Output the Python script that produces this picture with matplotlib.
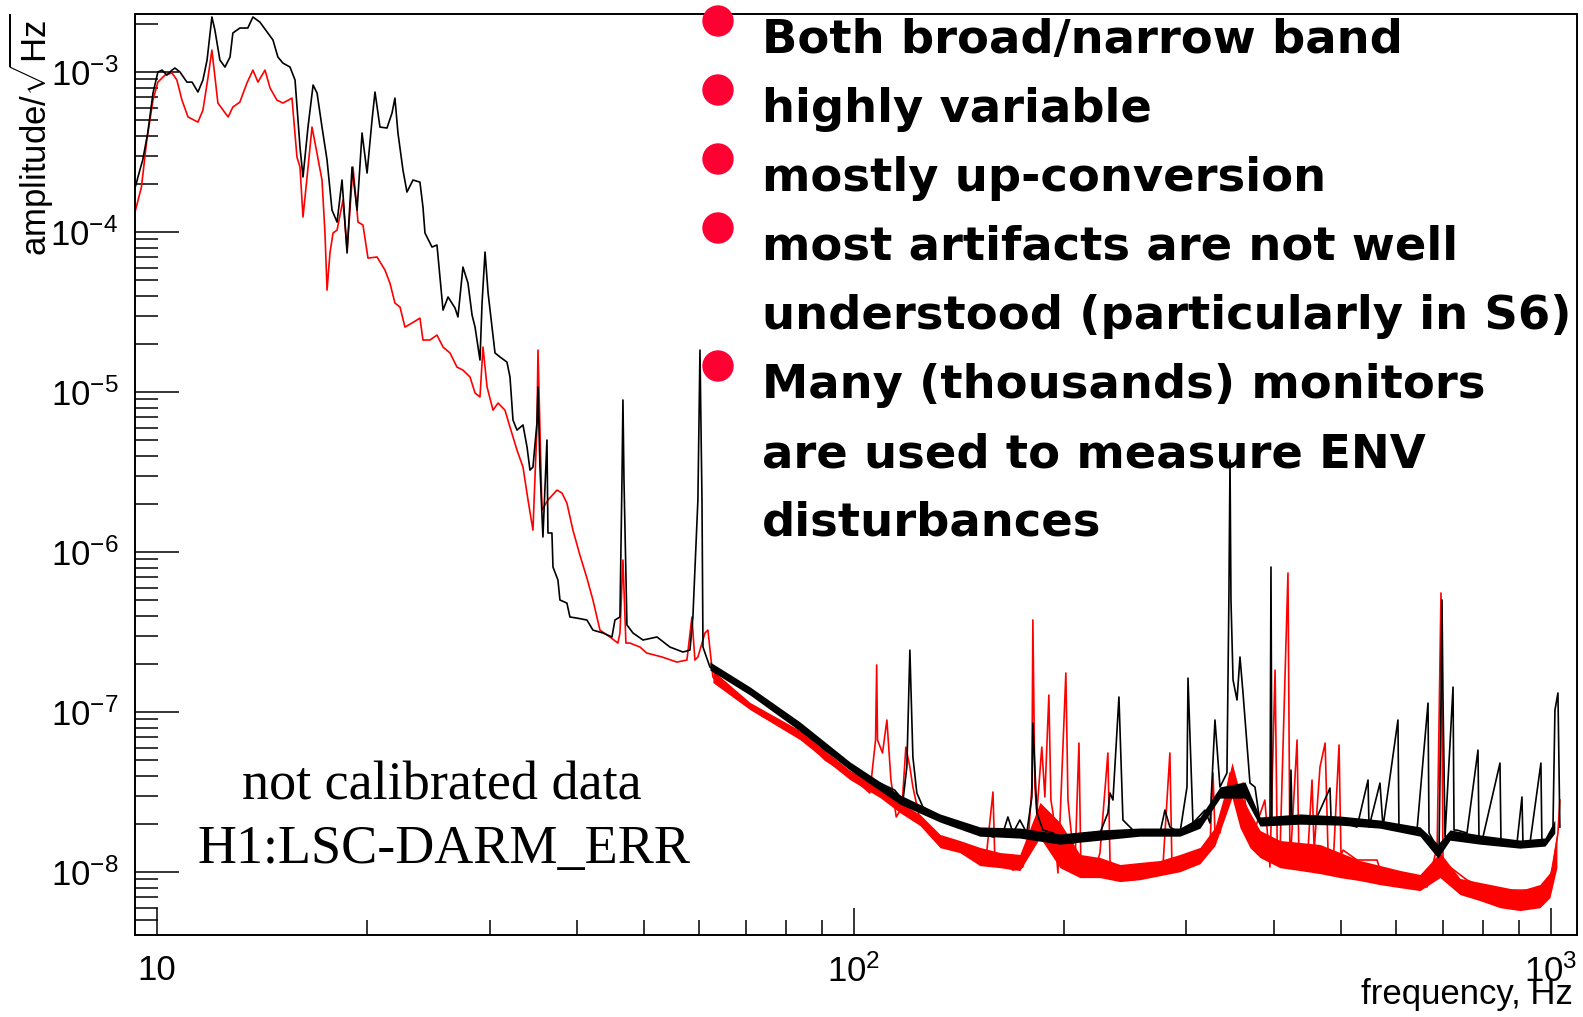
import numpy as np
import matplotlib.pyplot as plt
from matplotlib.patches import Ellipse
from matplotlib.ticker import FixedLocator, FixedFormatter, LogLocator, NullFormatter

plt.rcParams['font.family'] = 'Liberation Sans'
plt.rcParams['mathtext.fontset'] = 'custom'
plt.rcParams['mathtext.rm'] = 'Liberation Sans'
plt.rcParams['mathtext.default'] = 'regular'

# ---- spectrum: frequency in Hz, amplitude as log10 ----
black_freq = [9.30, 9.45, 9.54, 9.70, 9.87, 10.03, 10.17, 10.33, 10.51, 10.61, 10.79, 11.04, 11.23,
              11.45, 11.64, 11.80, 11.99, 12.11, 12.31, 12.52, 12.73, 12.85, 13.15, 13.50, 13.73,
              14.05, 14.39, 14.67, 14.91, 15.16, 15.52, 15.78, 16.04, 16.20, 16.47, 16.75, 16.97,
              17.25, 17.54, 17.83, 18.13, 18.43, 18.74, 19.05, 19.37, 19.69, 20.02, 20.35, 20.55,
              20.89, 21.38, 21.74, 21.95, 22.17, 22.54, 22.84, 23.30, 23.84, 24.08, 24.24, 24.81,
              25.22, 25.47, 25.73, 26.16, 26.77, 27.03, 27.48, 27.94, 28.32, 28.60, 29.07, 29.27,
              29.56, 29.86, 30.25, 30.55, 31.06, 31.78, 32.10, 32.42, 32.85, 33.51, 33.96, 34.29,
              34.63, 35.09, 35.21, 35.44, 35.79, 36.27, 36.39, 36.87, 37.00, 37.61, 37.86, 38.74,
              39.13, 40.04, 41.39, 42.22, 43.64, 44.96, 45.40, 46.16, 46.47, 46.62, 46.78, 47.24,
              48.19, 49.81, 52.17, 54.45, 56.84, 58.17, 58.74, 59.72, 60.13, 60.53, 60.73, 62.14,
              64.22, 67.06, 69.35, 71.72, 74.19, 76.77, 80.42, 83.67, 87.08, 90.91, 95.81, 100.4,
              103.7, 109.0, 114.4, 117.6, 119.1, 120.3, 121.5, 123.1, 125.6, 129.8, 136.0, 143.3,
              151.6, 158.3, 163.6, 166.3, 169.1, 173.0, 177.0, 180.0, 180.6, 183.0, 186.7, 193.0,
              199.5, 206.1, 215.9, 225.4, 231.4, 233.0, 235.3, 240.0, 243.2, 251.4, 263.2, 274.8,
              279.4, 284.0, 293.6, 300.5, 301.5, 306.5, 318.9, 324.2, 329.6, 335.1, 342.9, 345.1,
              346.4, 347.5, 349.9, 354.5, 358.0, 361.6, 370.0, 376.2, 382.5, 395.3, 396.6, 397.9,
              401.9, 422.3, 423.7, 425.1, 440.9, 461.8, 482.0, 483.6, 503.2, 527.0, 546.5, 548.3,
              568.5, 574.2, 603.3, 605.3, 613.5, 642.5, 666.3, 668.5, 677.4, 690.9, 695.5, 697.8,
              700.1, 704.8, 723.7, 726.1, 733.3, 757.9, 785.9, 788.5, 799.0, 845.1, 847.9, 853.6,
              893.9, 908.8, 911.8, 933.2, 967.5, 970.7, 986.9, 1006.8, 1013.4, 1023.5, 1030.0]
black_log = [-3.725, -3.613, -3.55, -3.381, -3.131, -3.0, -2.988, -3.019, -2.988, -2.975, -3.0, -3.063, -3.063,
             -3.125, -3.05, -2.925, -2.656, -2.738, -2.925, -2.969, -2.906, -2.756, -2.725, -2.725, -2.656,
             -2.688, -2.75, -2.8, -2.906, -2.944, -2.969, -3.05, -3.469, -3.656, -3.344, -3.081, -3.131,
             -3.344, -3.55, -3.863, -3.938, -3.675, -4.131, -3.594, -3.863, -3.381, -3.631, -3.3, -3.125,
             -3.344, -3.35, -3.256, -3.163, -3.381, -3.613, -3.75, -3.675, -3.688, -3.844, -4.006, -4.094,
             -4.081, -4.281, -4.488, -4.406, -4.475, -4.531, -4.219, -4.319, -4.519, -4.594, -4.8, -4.444,
             -4.125, -4.381, -4.594, -4.756, -4.781, -4.813, -4.906, -5.175, -5.238, -5.206, -5.344, -5.488,
             -5.469, -5.194, -4.969, -5.469, -5.906, -5.3, -5.881, -5.881, -6.094, -6.175, -6.3, -6.319,
             -6.406, -6.413, -6.425, -6.488, -6.506, -6.531, -6.425, -6.406, -5.55, -5.05, -5.55, -6.456,
             -6.506, -6.55, -6.531, -6.594, -6.625, -6.613, -6.406, -5.675, -4.738, -5.675, -6.594, -6.719,
             -6.756, -6.8, -6.844, -6.881, -6.925, -6.988, -7.031, -7.094, -7.156, -7.238, -7.3, -7.344,
             -7.406, -7.444, -7.488, -7.55, -7.344, -6.613, -7.281, -7.506, -7.594, -7.631, -7.675, -7.719,
             -7.75, -7.781, -7.756, -7.656, -7.756, -7.675, -7.756, -7.531, -7.069, -7.631, -7.738, -7.756,
             -7.8, -7.819, -7.781, -7.756, -7.631, -7.506, -7.55, -6.906, -7.675, -7.738, -7.756, -7.756,
             -7.613, -7.719, -7.756, -7.469, -6.788, -7.694, -7.613, -7.694, -7.05, -7.469, -7.381, -6.3,
             -5.425, -6.3, -6.8, -6.925, -6.656, -6.881, -7.444, -7.469, -7.694, -7.694, -6.094, -7.694,
             -7.675, -7.656, -7.363, -7.656, -7.675, -7.656, -7.475, -7.656, -7.694, -7.719, -7.425, -7.719,
             -7.444, -7.719, -7.05, -7.719, -7.719, -7.738, -6.944, -7.756, -7.8, -7.881, -6.925, -6.3,
             -6.925, -7.781, -6.844, -7.738, -7.738, -7.756, -7.238, -7.781, -7.781, -7.319, -7.8, -7.8,
             -7.819, -7.531, -7.819, -7.819, -7.319, -7.819, -7.819, -7.719, -6.988, -6.881, -7.719]

red_freq = [9.30, 9.50, 9.67, 9.87, 10.03, 10.27, 10.51, 10.68, 10.86, 11.08, 11.45, 11.64, 11.84,
            11.99, 12.11, 12.23, 12.65, 12.85, 13.15, 13.46, 13.73, 13.96, 14.29, 14.53, 14.86,
            15.16, 15.62, 15.88, 16.04, 16.20, 16.42, 16.69, 16.86, 17.25, 17.42, 17.54, 17.71,
            17.89, 18.13, 18.49, 18.74, 19.11, 19.43, 19.75, 20.08, 20.69, 21.24, 21.59, 21.95,
            22.32, 22.69, 23.22, 23.84, 24.08, 24.64, 25.22, 25.73, 26.33, 26.94, 27.48, 28.13,
            28.60, 29.07, 29.36, 29.76, 30.35, 30.86, 31.57, 32.10, 32.85, 33.51, 34.07, 34.63,
            35.09, 35.21, 35.44, 35.68, 36.39, 37.49, 38.11, 38.74, 39.52, 40.44, 41.39, 42.22,
            43.21, 44.66, 45.85, 46.16, 46.62, 47.08, 47.71, 49.32, 50.41, 53.04, 55.72, 57.59,
            58.55, 59.13, 59.72, 61.13, 61.73, 62.75, 64.86, 67.96, 70.93, 74.19, 77.55, 80.42,
            83.67, 87.08, 90.91, 95.81, 100.4, 105.4, 107.4, 107.8, 108.1, 109.9, 111.5, 113.0,
            115.0, 117.2, 118.7, 120.3, 121.5, 124.4, 128.5, 132.9, 137.3, 141.9, 146.7, 151.6,
            155.0, 158.3, 159.3, 163.6, 169.1, 174.7, 177.6, 180.0, 180.6, 181.8, 183.0, 186.0,
            187.9, 190.4, 191.7, 193.0, 196.2, 199.5, 201.4, 202.8, 204.1, 207.5, 210.3, 211.7,
            213.1, 220.3, 225.4, 231.4, 233.0, 235.3, 246.3, 257.2, 268.5, 277.5, 284.0, 285.9,
            290.7, 300.5, 313.7, 324.2, 327.5, 329.6, 335.1, 340.7, 346.4, 349.9, 354.5, 361.6,
            370.0, 388.7, 395.3, 402.0, 405.0, 408.6, 419.5, 422.3, 432.3, 435.2, 446.8, 454.2,
            457.4, 466.3, 474.3, 478.8, 486.8, 496.6, 499.8, 503.2, 527.0, 563.1, 574.2, 601.4,
            627.8, 664.1, 686.7, 695.5, 700.1, 716.5, 757.9, 799.0, 845.1, 893.9, 942.5, 986.9,
            1006.8, 1023.5, 1030.0]
red_log = [-3.875, -3.719, -3.425, -3.175, -3.063, -3.019, -3.006, -3.05, -3.175, -3.281, -3.313, -3.238, -3.031,
           -2.863, -3.031, -3.194, -3.281, -3.219, -3.188, -3.069, -2.988, -3.063, -2.988, -3.1, -3.175,
           -3.194, -3.163, -3.531, -3.594, -3.906, -3.656, -3.344, -3.444, -3.675, -4.006, -4.363, -4.131,
           -4.006, -3.988, -3.8, -4.113, -3.594, -3.938, -3.956, -4.163, -4.156, -4.238, -4.319, -4.444,
           -4.469, -4.594, -4.569, -4.538, -4.675, -4.675, -4.644, -4.719, -4.756, -4.844, -4.863, -4.906,
           -5.006, -5.031, -4.719, -4.969, -5.113, -5.069, -5.113, -5.219, -5.363, -5.469, -5.675, -5.863,
           -5.219, -4.738, -5.219, -5.738, -5.675, -5.613, -5.631, -5.694, -5.863, -6.019, -6.163, -6.3,
           -6.488, -6.531, -6.569, -6.506, -6.05, -6.569, -6.569, -6.594, -6.631, -6.656, -6.688, -6.675,
           -6.406, -6.675, -6.656, -6.506, -6.488, -6.781, -6.844, -6.906, -6.969, -7.031, -7.05, -7.113,
           -7.156, -7.219, -7.3, -7.363, -7.425, -7.506, -7.175, -6.706, -7.175, -7.256, -7.05, -7.425,
           -7.656, -7.594, -7.219, -7.344, -7.469, -7.675, -7.756, -7.819, -7.844, -7.844, -7.881, -7.925,
           -7.881, -7.5, -7.925, -7.944, -7.988, -7.969, -7.844, -7.469, -6.425, -7.469, -7.631, -7.219,
           -7.531, -6.894, -7.55, -7.631, -8.006, -7.219, -6.756, -7.55, -7.675, -7.969, -7.194, -7.988,
           -8.006, -8.031, -7.881, -7.256, -7.925, -8.006, -8.031, -8.006, -8.006, -7.969, -7.256, -7.944,
           -7.944, -7.969, -7.925, -7.844, -7.381, -7.756, -7.756, -7.55, -7.381, -7.425, -7.55, -7.444,
           -7.819, -7.55, -7.969, -6.738, -7.881, -7.881, -6.131, -7.969, -7.175, -7.969, -7.969, -7.425,
           -7.863, -7.344, -7.194, -7.863, -7.969, -7.206, -7.894, -7.863, -7.925, -7.925, -8.05, -8.05,
           -8.069, -8.094, -7.844, -6.256, -7.925, -7.969, -8.05, -8.094, -8.113, -8.113, -8.113, -8.094,
           -7.969, -7.756, -7.55]

# extent of the noise band at high frequency (log10 of lower / upper edge)
red_band_freq = [62.75, 70.93, 83.67, 98.70, 109.0, 116.4, 124.4, 132.9, 141.9, 151.6, 162.0, 173.0,
                 184.9, 197.5, 211.0, 225.4, 240.8, 257.2, 274.8, 293.6, 313.7, 329.6, 340.7, 348.7,
                 358.0, 370.0, 382.5, 408.6, 436.5, 466.3, 498.2, 532.2, 568.5, 607.4, 648.9, 693.2,
                 740.6, 791.1, 845.1, 902.8, 964.3, 996.8, 1020.0]
red_band_hi = [-6.74, -6.94, -7.115, -7.365, -7.471, -7.565, -7.64, -7.765, -7.803, -7.846, -7.878, -7.89,
               -7.565, -7.69, -7.89, -7.909, -7.953, -7.94, -7.928, -7.89, -7.846, -7.721, -7.503, -7.315,
               -7.503, -7.628, -7.74, -7.803, -7.815, -7.828, -7.878, -7.928, -7.959, -7.99, -8.015, -7.878,
               -8.04, -8.065, -8.09, -8.115, -8.078, -8.003, -7.753]
red_band_lo = [-6.816, -6.985, -7.173, -7.423, -7.535, -7.629, -7.71, -7.848, -7.879, -7.96, -7.973, -7.991,
               -7.785, -7.973, -8.035, -8.035, -8.06, -8.048, -8.023, -7.998, -7.948, -7.835, -7.66, -7.535,
               -7.723, -7.848, -7.91, -7.973, -7.991, -8.01, -8.035, -8.054, -8.079, -8.098, -8.116, -8.035,
               -8.141, -8.179, -8.223, -8.241, -8.223, -8.16, -7.973]

black_band_freq = [62.14, 70.93, 83.67, 98.70, 116.4, 132.9, 151.6, 173.0, 197.5, 225.4, 257.2, 293.6,
                   313.7, 335.1, 364.0, 382.5, 436.5, 498.2, 568.5, 648.9, 688.6, 716.5, 791.1, 902.8,
                   980.5, 1013.0]
black_band_hi = [-6.687, -6.843, -7.062, -7.312, -7.518, -7.637, -7.718, -7.725, -7.762, -7.737, -7.725, -7.725,
                 -7.656, -7.468, -7.437, -7.656, -7.637, -7.65, -7.675, -7.718, -7.825, -7.737, -7.768, -7.8,
                 -7.787, -7.675]
black_band_lo = [-6.738, -6.894, -7.119, -7.363, -7.576, -7.688, -7.776, -7.788, -7.826, -7.801, -7.776, -7.776,
                 -7.726, -7.538, -7.538, -7.713, -7.701, -7.707, -7.726, -7.776, -7.913, -7.801, -7.826, -7.851,
                 -7.838, -7.757]

x_ticks = [10, 100, 1000]
x_tick_labels = ['10', '$10^{2}$', '$10^{3}$']
y_ticks = [1e-8, 1e-7, 1e-6, 1e-5, 1e-4, 1e-3]
y_tick_labels = ['$10^{-8}$', '$10^{-7}$', '$10^{-6}$', '$10^{-5}$', '$10^{-4}$', '$10^{-3}$']

notes = ['not calibrated data', 'H1:LSC-DARM_ERR']
bullet_lines = ['Both broad/narrow band', 'highly variable', 'mostly up-conversion',
                'most artifacts are not well', 'understood (particularly in S6)',
                'Many (thousands) monitors', 'are used to measure ENV', 'disturbances']
bullet_rows = [0, 1, 2, 3, 5]

W, H = 1583, 1017
fig = plt.figure(figsize=(W / 100, H / 100), dpi=100)
ax = fig.add_axes([135 / W, 1 - 935 / H, (1577 - 135) / W, (935 - 14) / H])

red = '#ff0000'
ax.fill_between(red_band_freq, 10.0 ** np.array(red_band_lo), 10.0 ** np.array(red_band_hi),
                color=red, lw=0, zorder=1)
ax.plot(red_freq, 10.0 ** np.array(red_log), color=red, lw=1.2, zorder=2)
ax.fill_between(black_band_freq, 10.0 ** np.array(black_band_lo), 10.0 ** np.array(black_band_hi),
                color='black', lw=0, zorder=3)
ax.plot(black_freq, 10.0 ** np.array(black_log), color='black', lw=1.2, zorder=4)

ax.set_xscale('log')
ax.set_yscale('log')
ax.set_xlim(9.30, 1090)
ax.set_ylim(4.04e-9, 2.305e-3)

ax.xaxis.set_major_locator(FixedLocator(x_ticks))
ax.xaxis.set_major_formatter(FixedFormatter(x_tick_labels))
ax.xaxis.set_minor_locator(LogLocator(base=10, subs=np.arange(2, 10), numticks=30))
ax.xaxis.set_minor_formatter(NullFormatter())
ax.yaxis.set_major_locator(FixedLocator(y_ticks))
ax.yaxis.set_major_formatter(FixedFormatter(y_tick_labels))
ax.yaxis.set_minor_locator(LogLocator(base=10, subs=np.arange(2, 10), numticks=30))
ax.yaxis.set_minor_formatter(NullFormatter())

ax.tick_params(axis='y', which='major', direction='in', length=32, width=1.1, labelsize=25, pad=12)
ax.tick_params(axis='y', which='minor', direction='in', length=16.5, width=1.1)
ax.tick_params(axis='x', which='major', direction='in', length=19.5, width=1.1, labelsize=25, pad=14)
ax.tick_params(axis='x', which='minor', direction='in', length=10.8, width=1.1)
ax.tick_params(top=False, right=False, which='both')
for s in ax.spines.values():
    s.set_linewidth(1.4)

fig.text(31 / W, 1 - 14 / H, r'amplitude/$\sqrt{\mathrm{Hz}}$', rotation=90,
         ha='center', va='top', fontsize=25)
fig.text(1573 / W, 1 - 1004 / H, 'frequency, Hz', ha='right', va='baseline', fontsize=25)

fig.text(442 / W, 1 - 800 / H, notes[0], ha='center', va='baseline',
         fontsize=39, family='Liberation Serif')
fig.text(444 / W, 1 - 863 / H, notes[1], ha='center', va='baseline',
         fontsize=39, family='Liberation Serif')

for i, line in enumerate(bullet_lines):
    fig.text(762 / W, 1 - (53 + 69 * i) / H, line, ha='left', va='baseline',
             fontsize=33.5, fontweight='bold', family='DejaVu Sans')
for i in bullet_rows:
    fig.add_artist(Ellipse((718 / W, 1 - (21 + 69 * i) / H), 30 / W, 30 / H,
                           transform=fig.transFigure, color='#ff0033', zorder=6))

fig.savefig('out.png', dpi=100)
